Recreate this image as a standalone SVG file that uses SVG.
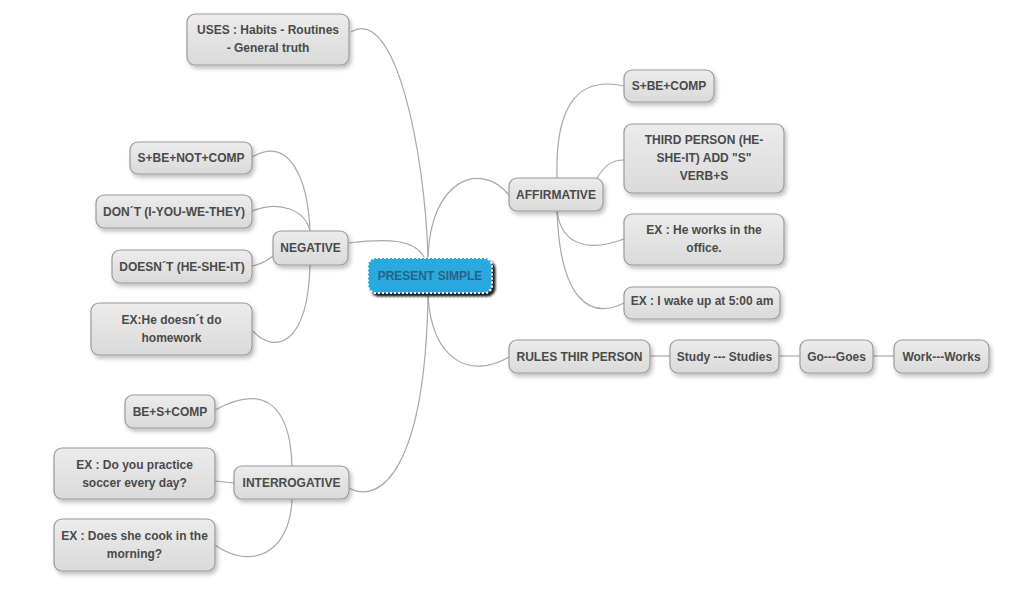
<svg xmlns="http://www.w3.org/2000/svg" width="1020" height="590" viewBox="0 0 1020 590">
<defs>
<linearGradient id="g" x1="0" y1="0" x2="0" y2="1">
<stop offset="0" stop-color="#ececec"/>
<stop offset="1" stop-color="#dadada"/>
</linearGradient>
<filter id="sh" x="-20%" y="-30%" width="140%" height="170%">
<feDropShadow dx="2" dy="3" stdDeviation="2" flood-color="#000" flood-opacity="0.25"/>
</filter>
<filter id="shc" x="-20%" y="-30%" width="140%" height="170%">
<feDropShadow dx="3" dy="3" stdDeviation="1" flood-color="#000" flood-opacity="0.9"/>
</filter>
</defs>
<style>
.n rect{fill:url(#g);stroke:#9a9a9a;stroke-width:1.2;filter:url(#sh)}
.n text{font-family:"Liberation Sans",Arial,sans-serif;font-size:12px;font-weight:bold;fill:#4a4a4a;text-anchor:middle}
.c path{fill:none;stroke:#a8a8a8;stroke-width:1.2}
#center rect{fill:#29a8e0;stroke:#fff;stroke-width:2;stroke-dasharray:2 2;filter:url(#shc)}
#center text{font-family:"Liberation Sans",Arial,sans-serif;font-size:12px;font-weight:bold;fill:#2a6283;text-anchor:middle}
</style>
<rect width="1020" height="590" fill="#fff"/>
<g class="c" id="connectors">
<path d="M351,32 C395,5 425,150 428,258"/>
<path d="M428,258 C430,180 480,160 509,195"/>
<path d="M349,243 C390,238 415,240 424,257"/>
<path d="M428,296 C432,360 470,380 509,357"/>
<path d="M349,488 C380,505 425,470 428,296"/>
<path d="M557,178 C555,110 575,75 624,86"/>
<path d="M597,178 C605,165 612,160 624,160"/>
<path d="M557,211 C562,250 595,250 624,239"/>
<path d="M557,211 C560,300 590,320 624,303"/>
<path d="M252,157 C290,135 308,180 310,231"/>
<path d="M252,211 C280,200 305,210 310,231"/>
<path d="M252,266 C262,264 268,260 273,256"/>
<path d="M253,331 C275,355 308,345 310,265"/>
<path d="M215,410 C260,385 290,400 292,466"/>
<path d="M215,481 L234,483"/>
<path d="M215,545 C250,570 290,555 292,499"/>
<path d="M650,356 H670"/>
<path d="M779,356 H800"/>
<path d="M873,356 H894"/>
</g>
<g id="center"><rect x="368" y="258" width="124" height="35" rx="8"/><text x="430" y="280">PRESENT SIMPLE</text></g>
<g class="n" id="uses"><rect x="187" y="14" width="162" height="51" rx="8"/><text x="268" y="34">USES : Habits - Routines</text><text x="268" y="52">- General truth</text></g>
<g class="n" id="affirmative"><rect x="509" y="178" width="94" height="33" rx="8"/><text x="556" y="199">AFFIRMATIVE</text></g>
<g class="n" id="sbecomp"><rect x="624" y="70" width="90" height="32" rx="8"/><text x="669" y="90">S+BE+COMP</text></g>
<g class="n" id="third"><rect x="624" y="124" width="160" height="69" rx="8"/><text x="704" y="144">THIRD PERSON (HE-</text><text x="704" y="162">SHE-IT) ADD "S"</text><text x="704" y="180">VERB+S</text></g>
<g class="n" id="exworks"><rect x="624" y="214" width="160" height="51" rx="8"/><text x="704" y="234">EX : He works in the</text><text x="704" y="252">office.</text></g>
<g class="n" id="exwake"><rect x="624" y="287" width="156" height="32" rx="8"/><text x="702" y="305">EX : I wake up at 5:00 am</text></g>
<g class="n" id="rules"><rect x="509" y="340" width="141" height="33" rx="8"/><text x="579.5" y="361">RULES THIR PERSON</text></g>
<g class="n" id="study"><rect x="670" y="340" width="109" height="33" rx="8"/><text x="724.5" y="361">Study --- Studies</text></g>
<g class="n" id="go"><rect x="800" y="340" width="73" height="33" rx="8"/><text x="836.5" y="361">Go---Goes</text></g>
<g class="n" id="work"><rect x="894" y="340" width="95" height="33" rx="8"/><text x="941.5" y="361">Work---Works</text></g>
<g class="n" id="negative"><rect x="273" y="231" width="75" height="34" rx="8"/><text x="310.5" y="252">NEGATIVE</text></g>
<g class="n" id="sbenot"><rect x="130" y="142" width="122" height="32" rx="8"/><text x="191" y="162">S+BE+NOT+COMP</text></g>
<g class="n" id="dont"><rect x="96" y="195" width="156" height="33" rx="8"/><text x="174" y="216">DON´T (I-YOU-WE-THEY)</text></g>
<g class="n" id="doesnt"><rect x="112" y="250" width="140" height="33" rx="8"/><text x="182" y="271">DOESN´T (HE-SHE-IT)</text></g>
<g class="n" id="exdoesnt"><rect x="91" y="303" width="161" height="52" rx="8"/><text x="171.5" y="324">EX:He doesn´t do</text><text x="171.5" y="342">homework</text></g>
<g class="n" id="besc"><rect x="125" y="395" width="90" height="33" rx="8"/><text x="170" y="416">BE+S+COMP</text></g>
<g class="n" id="interrogative"><rect x="234" y="466" width="115" height="33" rx="8"/><text x="291.5" y="487">INTERROGATIVE</text></g>
<g class="n" id="exdo"><rect x="54" y="448" width="161" height="51" rx="8"/><text x="134.5" y="469">EX : Do you practice</text><text x="134.5" y="487">soccer every day?</text></g>
<g class="n" id="exdoes"><rect x="54" y="519" width="161" height="52" rx="8"/><text x="134.5" y="540">EX : Does she cook in the</text><text x="134.5" y="558">morning?</text></g>
</svg>
